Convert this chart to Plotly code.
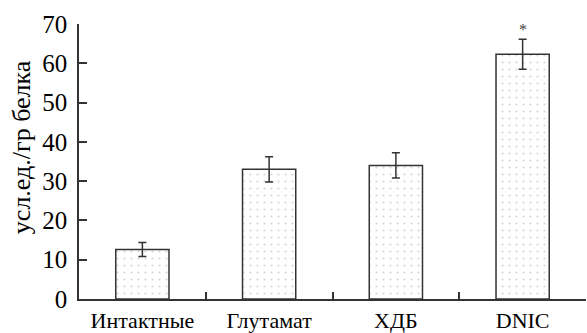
import plotly.graph_objects as go

categories = ["Интактные", "Глутамат", "ХДБ", "DNIC"]
values = [12.6, 33.0, 34.0, 62.3]
errors = [1.8, 3.2, 3.2, 3.8]
significance = ["", "", "", "*"]
y_ticks = [0, 10, 20, 30, 40, 50, 60, 70]
y_title = "усл.ед./гр белка"

fig = go.Figure()
fig.add_trace(go.Bar(
    x=categories, y=values, width=0.42,
    marker=dict(color="white", line=dict(color="#333333", width=1.5),
                pattern=dict(shape=".", fgcolor="#b0b0b0", bgcolor="white",
                             size=7, solidity=0.08)),
    error_y=dict(type="data", array=errors, visible=True,
                 color="#333333", thickness=1.5, width=4),
    showlegend=False,
))

for c, v, e, s in zip(categories, values, errors, significance):
    if s:
        fig.add_annotation(x=c, y=v + e, text=s, showarrow=False, yshift=10,
                           font=dict(family="Liberation Serif", size=16, color="#444444"))

fig.add_annotation(xref="paper", yref="paper", x=-0.112, y=0.553, text=y_title,
                   textangle=-90, showarrow=False, xanchor="center", yanchor="middle",
                   font=dict(family="Liberation Serif", size=26, color="black"))

fig.update_layout(
    width=587, height=333,
    margin=dict(l=79, r=1, t=24, b=34, autoexpand=False),
    paper_bgcolor="white", plot_bgcolor="white",
    font=dict(family="Liberation Serif", color="black"),
    bargap=0.58,
)
fig.update_xaxes(
    range=[-0.5, 3.5], showline=True, linecolor="#333333", linewidth=1.5,
    ticks="inside", tickson="boundaries", ticklen=7, tickwidth=1.5, tickcolor="#333333",
    tickfont=dict(size=22), showgrid=False, zeroline=False, ticklabelstandoff=1,
    automargin=False,
)
fig.update_yaxes(
    range=[0, 70], tickvals=y_ticks, showline=True, linecolor="#333333", linewidth=1.5,
    ticks="inside", ticklen=8, tickwidth=1.5, tickcolor="#333333",
    tickfont=dict(size=25), showgrid=False, zeroline=False, ticklabelstandoff=5,
    automargin=False,
)

fig.write_html("out.html", config={"displayModeBar": False},
               post_script="document.body.style.margin='0';document.body.style.overflow='hidden';")
